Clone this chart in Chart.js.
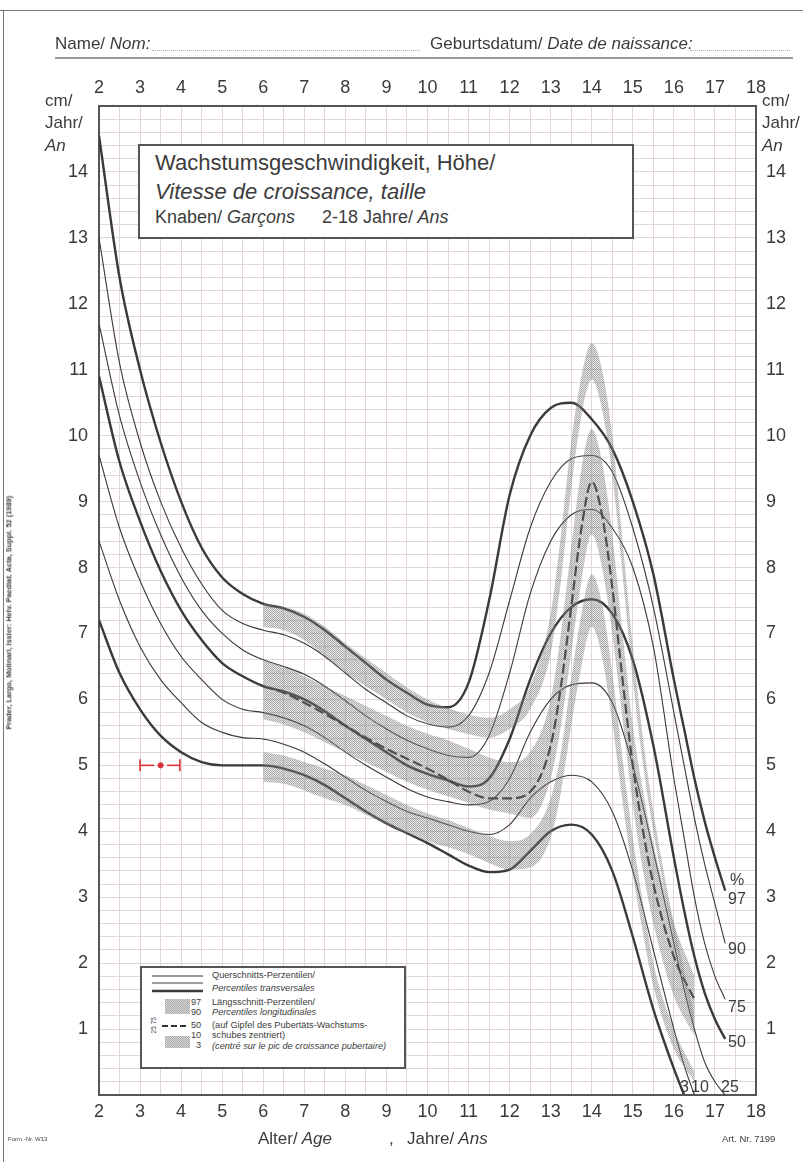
<!DOCTYPE html>
<html>
<head>
<meta charset="utf-8">
<title>Wachstumsgeschwindigkeit Knaben</title>
<script src="https://cdn.jsdelivr.net/npm/chart.js@4.4.1/dist/chart.umd.min.js"></script>
<style>
    html, body { margin: 0; padding: 0; background: #fff; }
    #page { position: relative; width: 803px; height: 1162px; overflow: hidden;
            font-family: "Liberation Sans", Arial, sans-serif; color: #3c3c3c; }
    #velocityChart { position: absolute; left: 0; top: 0; }
    .t { position: absolute; white-space: nowrap; line-height: 1; }
    .t i { font-style: italic; }
    .rule { position: absolute; }
    #titleBox { position: absolute; left: 138px; top: 144px; width: 492px; height: 91px;
                border: 2px solid #555; background: #fff; }
    #legendBox { position: absolute; left: 140px; top: 966px; width: 262px; height: 99px;
                 border: 2px solid #555; background: #fff; }
    svg { position: absolute; left: 0; top: 0; pointer-events: none; }
</style>
</head>
<body>
<div id="page">
    <canvas id="velocityChart" width="803" height="1162"></canvas>

    <!-- page frame -->
    <div class="rule" style="left:0;top:10px;width:803px;height:1px;background:#777"></div>
    <div class="rule" style="left:3px;top:10px;width:1px;height:1152px;background:#777"></div>

    <!-- header -->
    <div class="t" style="left:55px;top:35px;font-size:17px">Name/<i> Nom:</i></div>
    <div class="rule" style="left:152px;top:50px;width:268px;border-top:1px dotted #aaa"></div>
    <div class="t" style="left:430px;top:35px;font-size:17px">Geburtsdatum/<i> Date de naissance:</i></div>
    <div class="rule" style="left:690px;top:50px;width:100px;border-top:1px dotted #aaa"></div>
    <div class="rule" style="left:55px;top:57px;width:738px;height:2px;background:#9a9a9a"></div>

    <!-- unit labels -->
    <div class="t" style="left:45px;top:92px;font-size:17px">cm/</div>
    <div class="t" style="left:45px;top:114px;font-size:17px">Jahr/</div>
    <div class="t" style="left:45px;top:137px;font-size:17px"><i>An</i></div>
    <div class="t" style="left:762px;top:92px;font-size:17px">cm/</div>
    <div class="t" style="left:762px;top:114px;font-size:17px">Jahr/</div>
    <div class="t" style="left:762px;top:137px;font-size:17px"><i>An</i></div>

    <!-- title box -->
    <div id="titleBox"></div>
    <div class="t" style="left:155px;top:152px;font-size:22px">Wachstumsgeschwindigkeit, Höhe/</div>
    <div class="t" style="left:155px;top:181px;font-size:22px"><i>Vitesse de croissance, taille</i></div>
    <div class="t" style="left:155px;top:208px;font-size:18px">Knaben/<i> Garçons</i></div>
    <div class="t" style="left:322px;top:208px;font-size:18px">2-18 Jahre/<i> Ans</i></div>

    <!-- legend box -->
    <div id="legendBox"></div>
    <svg width="803" height="1162">
        <defs>
            <pattern id="stipple" width="2" height="2" patternUnits="userSpaceOnUse">
                <rect width="2" height="2" fill="#d8d8d8"></rect>
                <rect width="1" height="1" fill="#a8a8a8"></rect>
                <rect x="1" y="1" width="1" height="1" fill="#a8a8a8"></rect>
            </pattern>
        </defs>
        <line x1="152" y1="976" x2="203" y2="976" stroke="#3b3b3b" stroke-width="1.2"></line>
        <line x1="152" y1="983" x2="203" y2="983" stroke="#3b3b3b" stroke-width="1.2"></line>
        <line x1="152" y1="991" x2="203" y2="991" stroke="#3b3b3b" stroke-width="2.4"></line>
        <rect x="165" y="999" width="25" height="15" fill="url(#stipple)"></rect>
        <line x1="162" y1="1026" x2="187" y2="1026" stroke="#333" stroke-width="2" stroke-dasharray="6 3"></line>
        <rect x="165" y="1036" width="25" height="12" fill="url(#stipple)"></rect>
    </svg>
    <div class="t" style="left:212px;top:971px;font-size:9.2px">Querschnitts-Perzentilen/</div>
    <div class="t" style="left:212px;top:984px;font-size:9.2px"><i>Percentiles transversales</i></div>
    <div class="t" style="left:191px;top:998px;font-size:9.2px">97</div>
    <div class="t" style="left:191px;top:1008px;font-size:9.2px">90</div>
    <div class="t" style="left:191px;top:1021px;font-size:9.2px">50</div>
    <div class="t" style="left:191px;top:1031px;font-size:9.2px">10</div>
    <div class="t" style="left:196px;top:1041px;font-size:9.2px">3</div>
    <div class="t" style="left:146px;top:1022px;font-size:6.5px;transform:rotate(-90deg)">25 75</div>
    <div class="t" style="left:212px;top:998px;font-size:9.2px">Längsschnitt-Perzentilen/</div>
    <div class="t" style="left:212px;top:1008px;font-size:9.2px"><i>Percentiles longitudinales</i></div>
    <div class="t" style="left:212px;top:1021px;font-size:9.2px">(auf Gipfel des Pubertäts-Wachstums-</div>
    <div class="t" style="left:212px;top:1031px;font-size:9.2px">schubes zentriert)</div>
    <div class="t" style="left:212px;top:1042px;font-size:9.2px"><i>(centré sur le pic de croissance pubertaire)</i></div>

    <!-- percentile end labels -->
    <div class="t" style="left:730px;top:872px;font-size:16px">%</div>
    <div class="t" style="left:728px;top:891px;font-size:16px">97</div>
    <div class="t" style="left:728px;top:941px;font-size:16px">90</div>
    <div class="t" style="left:728px;top:999px;font-size:16px">75</div>
    <div class="t" style="left:728px;top:1034px;font-size:16px">50</div>
    <div class="t" style="left:680px;top:1079px;font-size:16px">3</div>
    <div class="t" style="left:691px;top:1079px;font-size:16px">10</div>
    <div class="t" style="left:721px;top:1079px;font-size:16px">25</div>

    <!-- footer -->
    <div class="t" style="left:258px;top:1130px;font-size:17px">Alter/<i> Age</i></div>
    <div class="t" style="left:389px;top:1130px;font-size:17px">,</div>
    <div class="t" style="left:407px;top:1130px;font-size:17px">Jahre/<i> Ans</i></div>
    <div class="t" style="left:8px;top:1136px;font-size:6px">Form.-Nr. W13</div>
    <div class="t" style="left:722px;top:1134px;font-size:9.5px">Art. Nr. 7199</div>
    <div class="t" style="left:-131px;top:609px;width:280px;text-align:center;font-size:7.4px;font-weight:bold;transform:rotate(-90deg)">Prader, Largo, Molinari, Issler: Helv. Paediat. Acta, Suppl. 52 (1989)</div>
</div>

<script>
// Height velocity, boys 2-18 years
// Cross-sectional percentiles (lines) + longitudinal percentiles centred on the pubertal peak (shaded bands)

// tick labels
const yearLabels = [2, 3, 4, 5, 6, 7, 8, 9, 10, 11, 12, 13, 14, 15, 16, 17, 18];
const velocityLabels = [1, 2, 3, 4, 5, 6, 7, 8, 9, 10, 11, 12, 13, 14];

// cross-sectional percentiles, cm/year
const ages = [2, 2.5, 3, 3.5, 4, 4.5, 5, 5.5, 6, 6.5, 7, 7.5, 8, 8.5, 9, 9.5, 10, 10.5, 11, 11.5, 12, 12.5, 13, 13.5, 14, 14.5, 15, 15.5, 16, 16.25, 16.5, 16.75, 17, 17.25];
const p97 = [14.55, 12.4, 11.0, 9.9, 9.0, 8.3, 7.85, 7.6, 7.45, 7.38, 7.25, 7.05, 6.8, 6.55, 6.3, 6.1, 5.92, 5.88, 6.25, 7.5, 9.1, 10.0, 10.42, 10.5, 10.25, 9.8, 9.0, 7.9, 6.3, 5.55, 4.8, 4.15, 3.6, 3.1];
const p90 = [13.0, 11.1, 9.9, 9.0, 8.3, 7.75, 7.35, 7.15, 7.05, 6.98, 6.85, 6.65, 6.4, 6.15, 5.95, 5.75, 5.63, 5.58, 5.75, 6.4, 7.5, 8.6, 9.3, 9.65, 9.7, 9.45, 8.6, 7.4, 5.8, 5.0, 4.2, 3.5, 2.9, 2.3];
const p75 = [11.7, 10.3, 9.3, 8.5, 7.85, 7.35, 7.0, 6.75, 6.6, 6.5, 6.38, 6.2, 5.98, 5.75, 5.55, 5.38, 5.25, 5.15, 5.12, 5.45, 6.4, 7.6, 8.4, 8.8, 8.88, 8.6, 8.0, 6.8, 4.8, 3.9, 3.0, 2.3, 1.8, 1.45];
const p50 = [10.9, 9.6, 8.7, 7.95, 7.35, 6.9, 6.55, 6.35, 6.2, 6.12, 6.0, 5.82, 5.6, 5.4, 5.2, 5.0, 4.87, 4.77, 4.68, 4.8, 5.4, 6.3, 7.0, 7.4, 7.52, 7.3, 6.6, 5.3, 3.6, 2.8, 2.1, 1.55, 1.15, 0.85];
const p25 = [9.7, 8.6, 7.8, 7.15, 6.65, 6.3, 6.0, 5.85, 5.8, 5.72, 5.6, 5.42, 5.2, 5.0, 4.82, 4.65, 4.52, 4.45, 4.4, 4.45, 4.8, 5.5, 6.0, 6.22, 6.25, 5.95, 5.0, 3.7, 2.3, 1.6, 1.0, 0.5, 0.2, 0];
const p10 = [8.4, 7.5, 6.8, 6.3, 5.95, 5.65, 5.5, 5.42, 5.4, 5.32, 5.2, 5.02, 4.82, 4.62, 4.45, 4.3, 4.2, 4.1, 4.0, 3.95, 4.1, 4.5, 4.75, 4.85, 4.75, 4.3, 3.4, 2.2, 1.0, 0.45, 0, null, null, null];
const p3 = [7.2, 6.4, 5.85, 5.45, 5.2, 5.05, 5.0, 5.0, 5.0, 4.95, 4.85, 4.7, 4.5, 4.3, 4.12, 3.97, 3.82, 3.65, 3.48, 3.38, 3.42, 3.7, 4.0, 4.1, 3.95, 3.4, 2.4, 1.3, 0.4, 0, null, null, null, null];

// longitudinal percentiles (centred on peak height velocity), cm/year
const longAges = [6, 6.5, 7, 7.5, 8, 8.5, 9, 9.5, 10, 10.5, 11, 11.5, 12, 12.5, 13, 13.25, 13.5, 13.75, 14, 14.25, 14.5, 14.75, 15, 15.25, 15.5, 16, 16.5];
const l97 = [7.45, 7.4, 7.3, 7.1, 6.85, 6.62, 6.4, 6.18, 6.0, 5.87, 5.77, 5.72, 5.85, 6.2, 7.3, 8.5, 9.9, 10.9, 11.4, 11.0, 10.0, 8.4, 6.8, 5.4, 4.3, 2.6, 1.2];
const l90 = [7.1, 7.05, 6.9, 6.65, 6.4, 6.2, 6.0, 5.8, 5.65, 5.55, 5.47, 5.42, 5.55, 5.85, 6.7, 7.8, 9.2, 10.3, 10.85, 10.4, 9.4, 7.9, 6.3, 5.0, 4.0, 2.4, 1.0];
const l75 = [6.6, 6.5, 6.35, 6.2, 6.05, 5.9, 5.75, 5.6, 5.48, 5.38, 5.25, 5.12, 5.05, 5.2, 6.0, 7.0, 8.3, 9.5, 10.1, 9.6, 8.5, 7.0, 5.6, 4.6, 3.8, 2.6, 1.8];
const l50 = [6.2, 6.1, 5.95, 5.78, 5.6, 5.42, 5.25, 5.1, 4.95, 4.78, 4.6, 4.5, 4.5, 4.6, 5.3, 6.2, 7.4, 8.6, 9.3, 8.8, 7.7, 6.3, 5.0, 4.0, 3.2, 2.1, 1.45];
const l25 = [5.7, 5.62, 5.5, 5.35, 5.2, 5.05, 4.9, 4.75, 4.63, 4.53, 4.43, 4.33, 4.27, 4.2, 4.8, 5.6, 6.7, 7.8, 8.5, 8.0, 7.0, 5.7, 4.4, 3.4, 2.6, 1.5, 0.9];
const l10 = [5.2, 5.15, 5.05, 4.95, 4.85, 4.7, 4.55, 4.4, 4.27, 4.17, 4.05, 3.93, 3.85, 3.95, 4.5, 5.2, 6.3, 7.3, 7.9, 7.45, 6.4, 5.1, 3.9, 2.9, 2.0, 1.0, 0.35];
const l3 = [4.75, 4.72, 4.62, 4.5, 4.4, 4.25, 4.1, 3.97, 3.85, 3.76, 3.65, 3.52, 3.42, 3.45, 3.9, 4.6, 5.6, 6.5, 7.1, 6.65, 5.65, 4.45, 3.35, 2.45, 1.65, 0.7, 0.2];

// entered measurement (red): velocity over the interval 3.0 - 4.0 years
const markerAge = 3.5;
const markerVelocity = 5.0;
const markerFrom = 3.0;
const markerTo = 3.97;

const ink = '#3a3a3a';
const gridColor = '#e2d6d6';
const frameColor = '#555';
const red = '#d9303a';
const tickFont = { family: '"Liberation Sans", Arial, sans-serif', size: 18 };

function toPoints(xs, ys) {
    return xs.map((x, i) => ({ x: x, y: ys[i] }));
}

// halftone look of the longitudinal bands
function makeStipple() {
    const c = document.createElement('canvas');
    c.width = 2;
    c.height = 2;
    const g = c.getContext('2d');
    g.fillStyle = 'rgba(150,150,150,0.25)';
    g.fillRect(0, 0, 2, 2);
    g.fillStyle = 'rgba(105,105,105,0.45)';
    g.fillRect(0, 0, 1, 1);
    g.fillRect(1, 1, 1, 1);
    return g.createPattern(c, 'repeat');
}

function initVelocityChart() {
    const ctx = document.getElementById('velocityChart').getContext('2d');
    const stipple = makeStipple();

    const bandEdge = (label, ys, fillsDown) => ({
        label: label,
        data: toPoints(longAges, ys),
        borderWidth: 0,
        borderColor: 'rgba(0,0,0,0)',
        backgroundColor: stipple,
        pointRadius: 0,
        fill: fillsDown ? '+1' : false,
        cubicInterpolationMode: 'monotone'
    });

    const percentileLine = (label, ys, thick) => ({
        label: label,
        data: toPoints(ages, ys),
        borderColor: ink,
        borderWidth: thick ? 2.4 : 1.1,
        pointRadius: 0,
        fill: false,
        cubicInterpolationMode: 'monotone'
    });

    const markerGap = 0.16; // white gap either side of the dot
    const markerStyle = {
        borderColor: red,
        borderWidth: 1.6,
        pointStyle: 'line',
        rotation: 90,
        pointBorderColor: red,
        pointBorderWidth: 1.6,
        fill: false
    };

    const yearTick = (v) => yearLabels.includes(v) ? String(v) : '';
    const velocityTick = (v) => velocityLabels.includes(Math.round(v * 10) / 10) ? String(Math.round(v)) : '';

    new Chart(ctx, {
        type: 'line',
        data: {
            datasets: [
                bandEdge('L97', l97, true),
                bandEdge('L90', l90, false),
                bandEdge('L75', l75, true),
                bandEdge('L25', l25, false),
                bandEdge('L10', l10, true),
                bandEdge('L3', l3, false),
                {
                    label: 'L50',
                    data: toPoints(longAges, l50),
                    borderColor: '#2e2e2e',
                    borderWidth: 2.2,
                    borderDash: [10, 4],
                    pointRadius: 0,
                    fill: false,
                    cubicInterpolationMode: 'monotone'
                },
                percentileLine('P97', p97, true),
                percentileLine('P90', p90, false),
                percentileLine('P75', p75, false),
                percentileLine('P50', p50, true),
                percentileLine('P25', p25, false),
                percentileLine('P10', p10, false),
                percentileLine('P3', p3, true),
                Object.assign({
                    label: 'marker-left',
                    data: [{ x: markerFrom, y: markerVelocity }, { x: markerAge - markerGap, y: markerVelocity }],
                    pointRadius: [6, 0]
                }, markerStyle),
                Object.assign({
                    label: 'marker-right',
                    data: [{ x: markerAge + markerGap, y: markerVelocity }, { x: markerTo, y: markerVelocity }],
                    pointRadius: [0, 6]
                }, markerStyle),
                {
                    label: 'marker',
                    data: [{ x: markerAge, y: markerVelocity }],
                    showLine: false,
                    pointRadius: 2.6,
                    pointBackgroundColor: red,
                    pointBorderColor: red
                }
            ]
        },
        options: {
            responsive: false,
            animation: false,
            devicePixelRatio: 1,
            layout: { padding: 0 },
            plugins: {
                legend: { display: false },
                tooltip: { enabled: false }
            },
            scales: {
                x: {
                    type: 'linear',
                    position: 'bottom',
                    min: 2,
                    max: 18,
                    ticks: { stepSize: 0.5, maxTicksLimit: 100, autoSkip: false, maxRotation: 0, padding: 6, color: ink, font: tickFont, callback: yearTick },
                    grid: { color: gridColor, lineWidth: 1, drawTicks: false },
                    border: { color: frameColor, width: 2 },
                    afterFit: (s) => { s.height = 67; }
                },
                x2: {
                    type: 'linear',
                    position: 'top',
                    min: 2,
                    max: 18,
                    ticks: { stepSize: 0.5, maxTicksLimit: 100, autoSkip: false, maxRotation: 0, padding: 7, color: ink, font: tickFont, callback: yearTick },
                    grid: { display: false, drawTicks: false },
                    border: { color: frameColor, width: 2 },
                    afterFit: (s) => { s.height = 106; }
                },
                y: {
                    type: 'linear',
                    position: 'left',
                    min: 0,
                    max: 15,
                    ticks: { stepSize: 0.2, maxTicksLimit: 200, autoSkip: false, padding: 11, color: ink, font: tickFont, callback: velocityTick },
                    grid: { color: gridColor, lineWidth: 1, drawTicks: false },
                    border: { color: frameColor, width: 2 },
                    afterFit: (s) => { s.width = 99; }
                },
                y2: {
                    type: 'linear',
                    position: 'right',
                    min: 0,
                    max: 15,
                    ticks: { stepSize: 0.2, maxTicksLimit: 200, autoSkip: false, padding: 10, color: ink, font: tickFont, callback: velocityTick },
                    grid: { display: false, drawTicks: false },
                    border: { color: frameColor, width: 2 },
                    afterFit: (s) => { s.width = 47; }
                }
            }
        }
    });
}

initVelocityChart();
</script>
</body>
</html>
